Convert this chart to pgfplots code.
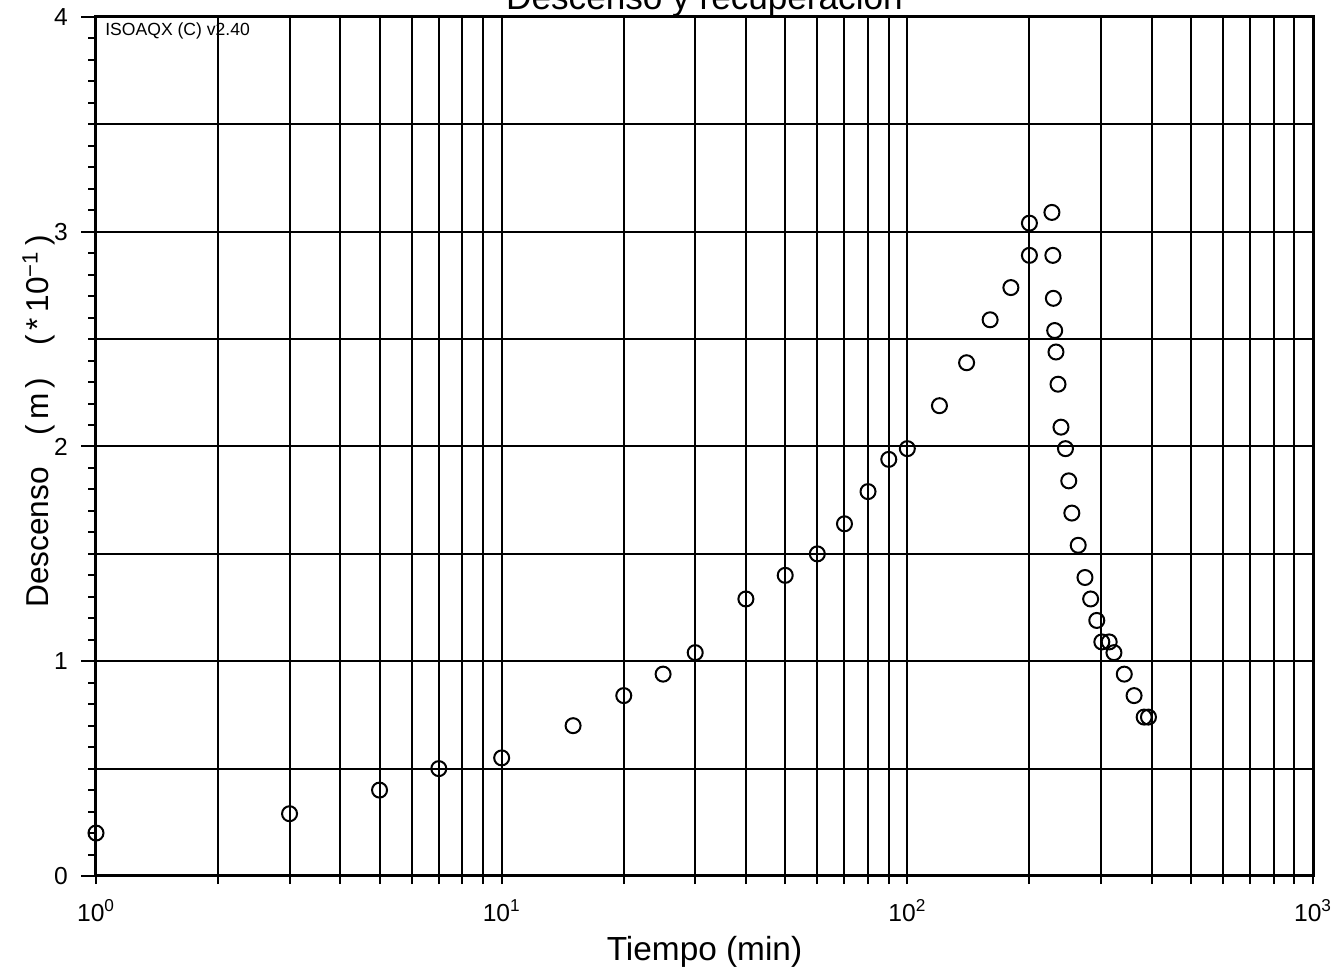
\documentclass[border=0pt]{standalone}
\usepackage{fontspec}
\setmainfont{Liberation Sans}
\usepackage{pgfplots}
\pgfplotsset{compat=1.18}
\begin{document}
\begin{tikzpicture}
\begin{axis}[
  scale only axis, width=243.4mm, height=171.8mm,
  xmode=log, log basis x=10,
  xmin=1, xmax=1000, ymin=0, ymax=4,
  xtick={1,10,100,1000},
  xticklabels={10\textsuperscript{0},10\textsuperscript{1},10\textsuperscript{2},10\textsuperscript{3}},
  minor xtick={2,3,4,5,6,7,8,9,20,30,40,50,60,70,80,90,200,300,400,500,600,700,800,900},
  ytick={0,1,2,3,4},
  yticklabels={0,1,2,3,4},
  minor y tick num=9,
  tick align=outside, tick pos=left,
  xmajorgrids, xminorgrids,
  extra y ticks={0.5,1,1.5,2,2.5,3,3.5},
  extra y tick labels={},
  extra y tick style={grid=major, major tick length=0pt},
  grid style={black, line width=0.4mm},
  minor grid style={black, line width=0.4mm},
  axis line style={black, line width=0.6mm},
  major tick length=3mm, minor tick length=1.6mm,
  xtick style={/pgfplots/major tick length=1.6mm},
  every tick/.style={black, line width=0.4mm},
  ticklabel style={font=\fontsize{14}{16}\selectfont},
  xticklabel style={anchor=base, yshift=-6mm},
  yticklabel style={anchor=east, xshift=-1.4mm},
  xlabel={Tiempo (min)},
  ylabel={Descenso\hspace{1em}(\,m\,)\hspace{1em}(\,*\,10\textsuperscript{−1}\,)},
  xlabel style={at={(axis description cs:0.5,-0.0978)}, anchor=base, font=\fontsize{19}{22}\selectfont},
  ylabel style={at={(axis description cs:-0.047,0.529)}, anchor=center, font=\fontsize{18}{22}\selectfont},
  every axis title shift=0pt,
  title={Descenso y recuperación},
  title style={at={(axis description cs:0.5,1)}, anchor=base, yshift=1.4mm, font=\fontsize{20}{24}\selectfont},
]
\addplot[only marks, mark=o, mark size=1.5mm, mark options={line width=0.4mm, black}] table {
t y
1 0.2
3 0.29
5 0.4
7 0.5
10 0.55
15 0.7
20 0.84
25 0.94
30 1.04
40 1.29
50 1.4
60 1.5
70 1.64
80 1.79
90 1.94
100 1.99
120 2.19
140 2.39
160 2.59
180 2.74
200 2.89
200 3.04
227.2 3.09
228.4 2.89
229.1 2.69
230.8 2.54
232.5 2.44
235.2 2.29
239.2 2.09
245.4 1.99
250 1.84
254.4 1.69
263.8 1.54
274.1 1.39
283.1 1.29
293.1 1.19
301.6 1.09
314.5 1.09
323.1 1.04
342.6 0.94
362.2 0.84
383.6 0.74
393.1 0.74
};
\node[anchor=north west, font=\fontsize{10}{12}\selectfont, inner sep=0pt] at (rel axis cs:0,1) [xshift=1.8mm, yshift=-1mm] {ISOAQX (C) v2.40};
\end{axis}
\pgfresetboundingbox
\path[use as bounding box] (-19.2mm,-20.2mm) rectangle (248.6mm,175.2mm);
\end{tikzpicture}
\end{document}
